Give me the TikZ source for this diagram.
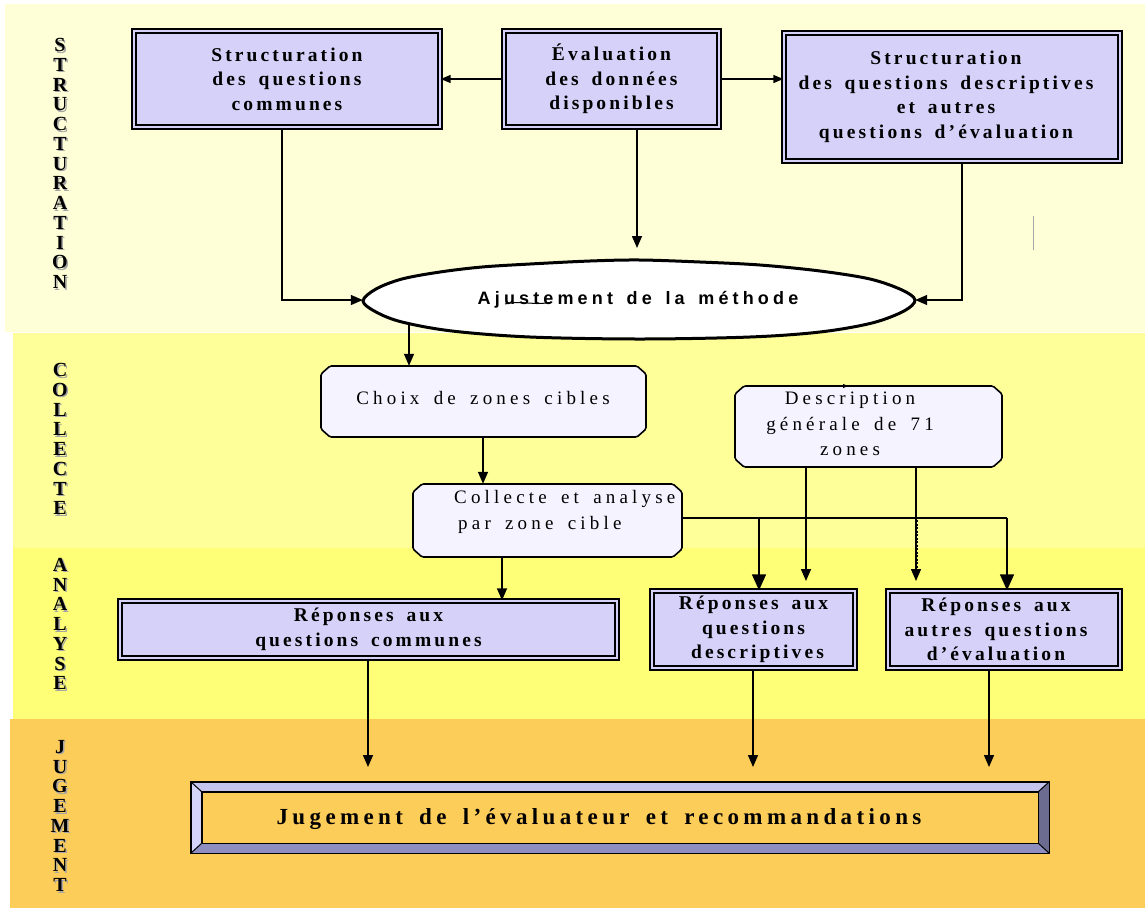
\documentclass[tikz,border=0pt]{standalone}
\usepackage{fontspec}
\usetikzlibrary{arrows.meta,shapes.geometric,calc,fit}
\newfontfamily\sideF{Liberation Serif}
\newfontfamily\boxF[LetterSpace=16,WordSpace=1.6]{Liberation Serif}
\newfontfamily\regF[LetterSpace=22,WordSpace=1.6]{Liberation Serif}
\newfontfamily\ellF[LetterSpace=23,WordSpace=1.5]{Liberation Sans}
\newfontfamily\jugF[LetterSpace=19,WordSpace=1.6]{Liberation Serif}
\definecolor{bandA}{HTML}{FFFFD7}
\definecolor{bandB}{HTML}{FFFF99}
\definecolor{bandC}{HTML}{FFFF77}
\definecolor{bandD}{HTML}{FDCD5A}
\definecolor{boxfill}{HTML}{D5D1F9}
\definecolor{chamfill}{HTML}{F4F3FF}
\definecolor{bevT}{HTML}{C4C4EE}
\definecolor{bevL}{HTML}{D4D4FA}
\definecolor{bevB}{HTML}{8E8EC0}
\definecolor{bevR}{HTML}{6C6C90}
\tikzset{
  sidelab/.style={inner sep=0pt, align=center, font=\sideF\bfseries\fontsize{20}{19.75}\selectfont},
  dbox/.style={draw=black, line width=1.4pt, double=boxfill, double distance=2.6pt, fill=boxfill,
    inner sep=0pt, align=center, font=\boxF\bfseries\fontsize{19.5}{24.5}\selectfont},
  cline/.style={draw=black, line width=1.6pt, fill=chamfill, rounded corners=1.5pt},
  ctext/.style={inner sep=0pt, align=center, font=\regF\fontsize{19}{25.5}\selectfont},
  conn/.style={line width=1.5pt, draw=black},
  arrS/.style={conn, -{Triangle[length=10pt,width=8pt]}},
  arrM/.style={conn, -{Triangle[length=12pt,width=10pt]}},
  arrL/.style={conn, -{Triangle[length=16pt,width=14pt]}},
}
% chamfered box: name, x1, y1, x2, y2
\newcommand\chamferbox[5]{%
  \path[cline] (#2+9,#3) -- (#4-9,#3) -- (#4,#3+8) -- (#4,#5-8) -- (#4-9,#5)
    -- (#2+9,#5) -- (#2,#5-8) -- (#2,#3+8) -- cycle;
  \node[fit={(#2,#3) (#4,#5)}, inner sep=0pt] (#1) {};
}
\begin{document}
\begin{tikzpicture}[x=1pt,y=-1pt]
\useasboundingbox (0,0) rectangle (1145,908);
% bands
\fill[bandA] (5,4) rectangle (1145,332);
\fill[bandB] (13,333) rectangle (1145,548);
\fill[bandC] (13,548) rectangle (1145,719);
\fill[bandD] (10,719) rectangle (1145,908);
% side labels
\foreach \nm/\yy/\txt in {Struct/163.5/{S\\T\\R\\U\\C\\T\\U\\R\\A\\T\\I\\O\\N},
    Coll/439/{C\\O\\L\\L\\E\\C\\T\\E},
    Anal/624/{A\\N\\A\\L\\Y\\S\\E},
    Jug/816/{J\\U\\G\\E\\M\\E\\N\\T}}{
  \node[sidelab, text=black!35] (sh\nm) at (61.5,\yy+1.5) {\txt};
  \node[sidelab] (lab\nm) at (60,\yy) {\txt};
}
% top boxes
\node[dbox, minimum width=306pt, minimum height=96pt] (box1) at (287,79)
  {Structuration\\des questions\\communes};
\node[dbox, minimum width=215pt, minimum height=96pt] (eval) at (611.5,79)
  {Évaluation\\des données\\disponibles};
\node[dbox, minimum width=336pt, minimum height=128pt] (box3) at (952,97)
  {\hspace*{-12pt}Structuration\\\hspace*{-12pt}des questions descriptives\\\hspace*{-12pt}et autres\\\hspace*{-12pt}questions d’évaluation};
\draw[arrS] (eval.west) -- (box1.east);
\draw[arrS] (eval.east) -- (eval.east -| box3.west);
\coordinate (evtip) at (637,248);
\draw[arrM] (evtip |- eval.south) -- (evtip);
% ellipse
\node[ellipse, minimum width=552pt, minimum height=78pt, inner sep=0pt] (ell) at (639,300) {};
\coordinate (eA) at (409,320);
\chamferbox{choix}{321}{366}{646}{437}
\draw[arrM] (eA) -- (eA |- choix.north);
\draw[line width=3pt, fill=white] plot[smooth cycle, tension=0.55] coordinates {
  (363,301) (376,289) (402,279) (440,272) (482,267) (530,264) (590,261) (640,260) (700,262)
  (760,265) (820,271) (870,279) (902,290) (915,300) (904,311) (872,323) (820,332) (750,337)
  (640,339) (530,337) (452,331) (402,322) (376,312)};
\node[inner sep=0pt, font=\ellF\bfseries\fontsize{18}{20}\selectfont] (elltxt) at (638,300) {Ajustement de la méthode};
\draw[line width=1pt] (505,304) .. controls (520,300) and (535,306) .. (552,302);
\draw[arrM] ([xshift=-5pt]box1.south) |- (ell.west);
\draw[arrM] ([xshift=10pt]box3.south) |- (ell.east);
\draw[gray!70, line width=0.8pt] (1033,216) -- (1033,250);
% collecte boxes
\node[ctext] (choixtxt) at (483,398) {Choix de zones cibles};
\chamferbox{coll}{413}{484}{682}{557}
\node[ctext, align=left, anchor=west] (colltxt) at (454,512) {Collecte et analyse\\\hspace*{4pt}par zone cible};
\chamferbox{desc}{735}{386}{1002}{467}
\node[ctext] (desctxt) at (850,424) {Description\\générale de 71\\zones};
\draw[-{Triangle[length=5pt,width=4pt]}, line width=0.8pt] (838,386) -- (848,386);
\coordinate (cA) at (483,0);
\draw[arrM] (cA |- choix.south) -- (cA |- coll.north);
% analyse boxes
\node[dbox, minimum width=497pt, minimum height=57pt] (rcom) at (368.5,629.5)
  {Réponses aux\\questions communes};
\node[dbox, minimum width=203pt, minimum height=77pt] (rdesc) at (753.5,629.5)
  {Réponses aux\\questions\\\hspace*{8pt}descriptives};
\node[dbox, minimum width=232pt, minimum height=77pt] (raut) at (1004,629.5)
  {\hspace*{-16pt}Réponses aux\\\hspace*{-16pt}autres questions\\\hspace*{-16pt}d’évaluation};
\coordinate (xC) at (502,0);
\draw[arrM] (xC |- coll.south) -- (xC |- rcom.north);
\coordinate (hL) at (682,518);
\coordinate (xD1) at (759,518);
\coordinate (xD2) at (1007,518);
\draw[conn] (hL) -- (xD2);
\draw[arrL] (xD1) -- (xD1 |- rdesc.north);
\draw[arrL] (xD2) -- (xD2 |- raut.north);
\coordinate (dx1) at (806,581);
\coordinate (dx2) at (916,581);
\draw[arrM] (dx1 |- desc.south) -- (dx1);
\draw[arrM] (dx2 |- desc.south) -- (dx2);
\draw[line width=3pt, dash pattern=on 2pt off 1.5pt] (916,520) -- (916,572);
% jugement
\coordinate (j1) at (368,767);
\coordinate (j2) at (753,767);
\coordinate (j3) at (989,767);
\draw[arrM] (j1 |- rcom.south) -- (j1);
\draw[arrM] (j2 |- rdesc.south) -- (j2);
\draw[arrM] (j3 |- raut.south) -- (j3);
\node[minimum width=858pt, minimum height=71pt, inner sep=0pt] (jug) at (620,817.5) {};
\fill[bevT] (jug.north west) -- (jug.north east) -- ++(-11,10) -- ($(jug.north west)+(11,10)$) -- cycle;
\fill[bevL] (jug.north west) -- ($(jug.north west)+(11,10)$) -- ($(jug.south west)+(11,-10)$) -- (jug.south west) -- cycle;
\fill[bevB] (jug.south west) -- ($(jug.south west)+(11,-10)$) -- ($(jug.south east)+(-11,-10)$) -- (jug.south east) -- cycle;
\fill[bevR] (jug.south east) -- ($(jug.south east)+(-11,-10)$) -- ($(jug.north east)+(-11,10)$) -- (jug.north east) -- cycle;
\draw[line width=1.4pt] (jug.north west) rectangle (jug.south east);
\draw[line width=1.4pt] ($(jug.north west)+(11,10)$) rectangle ($(jug.south east)+(-11,-10)$);
\draw[line width=1pt] (jug.north west) -- ++(11,10) (jug.north east) -- ++(-11,10)
  (jug.south west) -- ++(11,-10) (jug.south east) -- ++(-11,-10);
\node[inner sep=0pt, font=\jugF\bfseries\fontsize{23}{26}\selectfont] (jugtxt) at (599,819)
  {Jugement de l’évaluateur et recommandations};
\end{tikzpicture}
\end{document}
